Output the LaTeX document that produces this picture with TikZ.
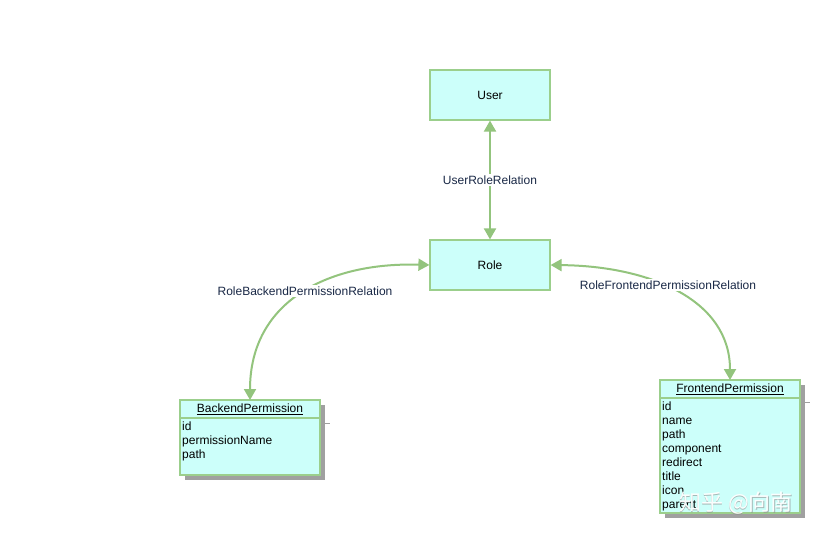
\documentclass[tikz,border=0pt]{standalone}
\usepackage{fontspec}
\setmainfont{Liberation Sans}
\newfontfamily\cjk{Noto Sans CJK SC}
\usetikzlibrary{arrows.meta,shadows}
\definecolor{boxfill}{RGB}{204,255,250}
\definecolor{boxline}{RGB}{155,207,140}
\definecolor{arrowc}{RGB}{147,196,125}
\definecolor{labc}{RGB}{25,40,70}
\definecolor{shad}{RGB}{160,160,160}
\tikzset{
  entity/.style={draw=boxline, fill=boxfill, line width=1.2pt, minimum width=120pt, minimum height=50pt, font=\fontsize{12}{14}\selectfont, inner sep=0pt},
  rel/.style={draw=arrowc, line width=2pt, {Triangle[length=11pt,width=12pt]}-{Triangle[length=11pt,width=12pt]}},
  rellab/.style={fill=white, text=labc, font=\fontsize{12}{14}\selectfont, inner sep=2pt},
  tbl/.style={draw=boxline, fill=boxfill, line width=1.2pt},
  tblshadow/.style={fill=shad},
  attr/.style={anchor=north west, inner sep=0pt, font=\fontsize{12}{14}\selectfont, align=left},
  hdr/.style={inner sep=0pt, font=\fontsize{12}{14}\selectfont},
  wmark/.style={font=\cjk\fontsize{22}{24}\selectfont, inner sep=0pt}
}
\begin{document}
\begin{tikzpicture}[x=1pt,y=-1pt]
\useasboundingbox (0,0) rectangle (822,536);
\fill[white] (0,0) rectangle (822,536);
% simple entities
\node[entity] (user) at (490,95) {User};
\node[entity] (role) at (490,265) {Role};
% Backend table
\fill[tblshadow] (185,405) rectangle (325,480);
\draw[shad, line width=0.8pt] (320,423) -- (330,423);
\draw[tbl] (180,400) rectangle (320,475);
\draw[boxline, line width=1.2pt] (180,418) -- (320,418);
\node[hdr] (bp) at (250,409) {\underline{BackendPermission}};
\coordinate (bptop) at (250,400);
\node[attr] (bpattr) at (182,422) {id\\permissionName\\path};
% Frontend table
\fill[tblshadow] (665,385) rectangle (805,518);
\draw[shad, line width=0.8pt] (800,402) -- (810,402);
\draw[tbl] (660,380) rectangle (800,513);
\draw[boxline, line width=1.2pt] (660,398) -- (800,398);
\node[hdr] (fp) at (730,389) {\underline{FrontendPermission}};
\coordinate (fptop) at (730,380);
\node[attr] (fpattr) at (662,402) {id\\name\\path\\component\\redirect\\title\\icon\\parent};
% relations
\draw[rel] (user.south) -- (role.north) node[midway, rellab] {UserRoleRelation};
\draw[rel] (role.west) .. controls (330,262) and (250,300) .. (bptop);
\node[rellab] (lab1) at (305,291) {RoleBackendPermissionRelation};
\draw[rel] (role.east) .. controls (650,266) and (730,300) .. (fptop);
\node[rellab] (lab2) at (668,285) {RoleFrontendPermissionRelation};
% watermark
\node[wmark, text=black!45, opacity=0.6] (wms) at (736.8,503.8) {知乎 @向南};
\node[wmark, text=white, opacity=0.95] (wm) at (736,503) {知乎 @向南};
\end{tikzpicture}
\end{document}
